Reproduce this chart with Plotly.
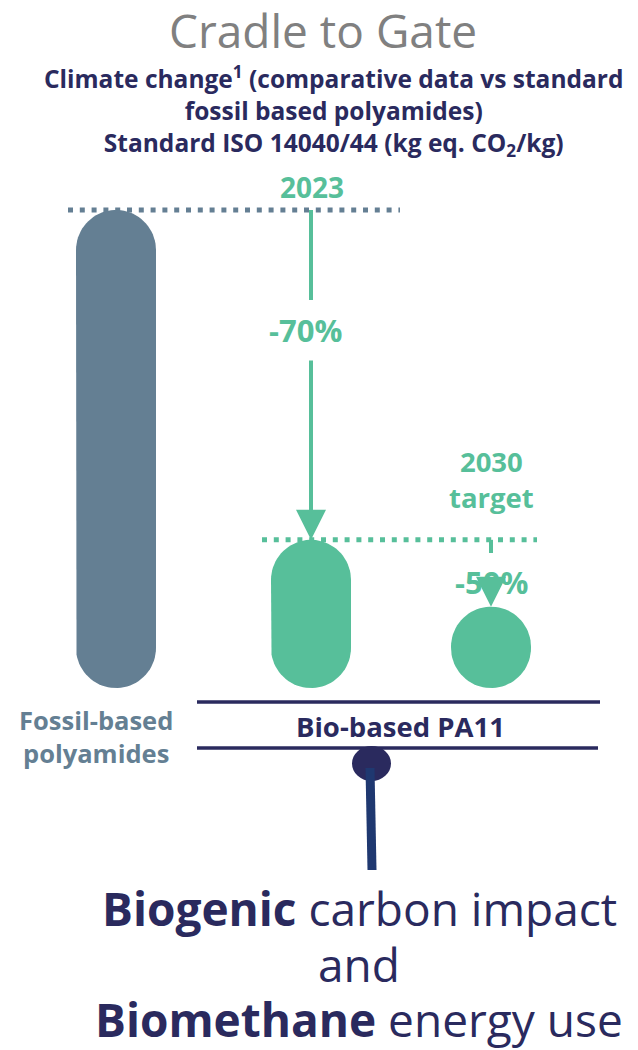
import numpy as np
import plotly.graph_objects as go

# ---------------- data ----------------
categories = ["Fossil-based polyamides", "Bio-based PA11 (2023)", "Bio-based PA11 (2030 target)"]
values = [100, 31, 17]            # relative climate-change impact (fossil = 100)
reduction_labels = ["-70%", "-50%"]
year_labels = ["2023", "2030<br>target"]

# ---------------- layout constants ----------------
W, H = 638, 1050
BASE_PX = 688          # pixel row of the value 0
K = 4.78               # pixels per value unit
BAR_X = [116, 311, 491]
BAR_W = 80

SLATE = "#647f93"
GREEN = "#57bf9a"
NAVY = "#2a2a5e"
STICK = "#1f3870"
GRAY = "#808080"
FONT = "Open Sans"


def v(py):
    """pixel row -> value units"""
    return (BASE_PX - py) / K


def px(x):
    return x / W


def py(y):
    return 1 - y / H


def pill(xc, val, width):
    """outline of a capsule from 0 to val, centred on xc (x in px units, y in value units)"""
    rx = width / 2
    ry = rx / K
    ry = min(ry, val / 2)
    t_top = np.linspace(0, np.pi, 40)
    t_bot = np.linspace(np.pi, 2 * np.pi, 40)
    xs = np.concatenate([xc + rx * np.cos(t_top), xc + rx * np.cos(t_bot)])
    ys = np.concatenate([(val - ry) + ry * np.sin(t_top), ry + ry * np.sin(t_bot)])
    return np.append(xs, xs[0]), np.append(ys, ys[0])


colors = [SLATE, GREEN, GREEN]
fig = go.Figure()
for cat, val, xc, col in zip(categories, values, BAR_X, colors):
    xs, ys = pill(xc, val, BAR_W)
    fig.add_trace(go.Scatter(x=xs, y=ys, mode="lines", fill="toself", fillcolor=col,
                             line=dict(width=0, color=col), name=cat, hoverinfo="name",
                             showlegend=False))

shapes = []
# dotted reference lines
shapes.append(dict(type="line", xref="x", yref="y", x0=68, x1=400, y0=values[0], y1=values[0],
                   line=dict(color=SLATE, width=5, dash="5px,6.8px")))
shapes.append(dict(type="line", xref="x", yref="y", x0=262, x1=537, y0=values[1], y1=values[1],
                   line=dict(color=GREEN, width=5, dash="5px,6.8px")))
# upper segment of the 2023 arrow
shapes.append(dict(type="line", xref="x", yref="y", x0=BAR_X[1], x1=BAR_X[1], y0=values[0], y1=v(300),
                   line=dict(color=GREEN, width=4)))
# small tick under 2030 target
shapes.append(dict(type="line", xref="x", yref="y", x0=BAR_X[2], x1=BAR_X[2], y0=values[1], y1=v(553),
                   line=dict(color=GREEN, width=4)))
# navy bracket lines
shapes.append(dict(type="line", xref="paper", yref="paper", x0=px(197), x1=px(600), y0=py(702), y1=py(702),
                   line=dict(color=NAVY, width=3.5)))
shapes.append(dict(type="line", xref="paper", yref="paper", x0=px(197), x1=px(598), y0=py(748), y1=py(748),
                   line=dict(color=NAVY, width=3.5)))
# pin circle + stick
shapes.append(dict(type="circle", xref="paper", yref="paper", x0=px(352), x1=px(391), y0=py(746), y1=py(781),
                   fillcolor=NAVY, line=dict(width=0)))
shapes.append(dict(type="line", xref="paper", yref="paper", x0=px(370), x1=px(372), y0=py(768), y1=py(870),
                   line=dict(color=STICK, width=9)))

ann = []
# arrows (drawn first so text sits on top)
ann.append(dict(x=BAR_X[1], y=values[1], xref="x", yref="y", ax=BAR_X[1], ay=v(359), axref="x", ayref="y",
                text="", showarrow=True, arrowhead=2, arrowsize=1.5, arrowwidth=4, arrowcolor=GREEN))
ann.append(dict(x=BAR_X[2], y=values[2], xref="x", yref="y", ax=BAR_X[2], ay=v(588), axref="x", ayref="y",
                text="", showarrow=True, arrowhead=2, arrowsize=1.5, arrowwidth=4, arrowcolor=GREEN))


def label(x, y, text, size, color, bold=False):
    ann.append(dict(x=px(x), y=py(y), xref="paper", yref="paper", text=f"<b>{text}</b>" if bold else text,
                    showarrow=False, xanchor="center", yanchor="middle",
                    font=dict(family=FONT, size=size, color=color)))


label(323, 30, "Cradle to Gate", 46, GRAY)
label(333, 111, "Climate change<sup>1</sup> (comparative data vs standard<br>fossil based polyamides)<br>"
               "Standard ISO 14040/44 (kg eq. CO<sub>2</sub>/kg)", 24.5, NAVY, bold=True)
label(312, 187, year_labels[0], 28, GREEN, bold=True)
label(305, 330, reduction_labels[0], 31, GREEN, bold=True)
label(491, 480, year_labels[1], 27.5, GREEN, bold=True)
label(491, 582, reduction_labels[1], 31, GREEN, bold=True)
label(96, 736, "Fossil-based<br>polyamides", 25.5, SLATE, bold=True)
label(400, 726, "Bio-based PA11", 27.5, NAVY, bold=True)
for t, yy in zip(["<b>Biogenic</b> carbon impact", "and", "<b>Biomethane</b> energy use"], [908, 964, 1019]):
    label(359, yy, t, 46, NAVY)

fig.update_layout(
    width=W, height=H, margin=dict(l=0, r=0, t=0, b=0),
    paper_bgcolor="white", plot_bgcolor="white",
    xaxis=dict(range=[0, W], visible=False, fixedrange=True),
    yaxis=dict(range=[v(H), v(0)], visible=False, fixedrange=True),
    shapes=shapes, annotations=ann, showlegend=False,
)

fig.write_html("out.html")
